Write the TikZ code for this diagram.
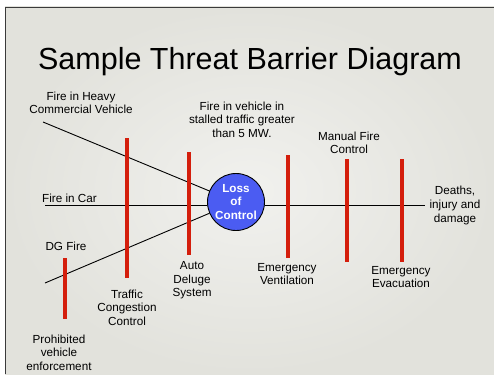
\documentclass[tikz,border=0pt]{standalone}
\usepackage{fontspec}
\setmainfont{Liberation Sans}
\usetikzlibrary{shapes.geometric}
\definecolor{slidebg}{HTML}{E2E2DC}
\definecolor{slidein}{HTML}{F1F1EE}
\definecolor{framec}{HTML}{3A3A3A}
\definecolor{barred}{HTML}{D41E0C}
\definecolor{lossblue}{HTML}{4B5CF2}
\tikzset{
  lbl/.style={align=center, inner sep=0pt, font=\fontsize{11.7}{13.6}\selectfont},
  bar/.style={draw=barred, line width=3.6pt},
  threat/.style={draw=black, line width=0.9pt},
  hub/.style={circle, draw=black, line width=0.9pt, fill=lossblue, minimum size=57pt, inner sep=0pt,
    text=white, align=center, font=\bfseries\fontsize{11.7}{13.5}\selectfont}
}
\begin{document}
\begin{tikzpicture}[x=1pt,y=-1pt]
\useasboundingbox (0,0) rectangle (494,374);
\fill[white] (0,0) rectangle (494,374);
\shade[inner color=slidein, outer color=slidebg] (5,7) rectangle (494,374);
\draw[framec, line width=1.5pt] (5.5,374) -- (5.5,7.5) -- (494,7.5);

\node[font=\fontsize{30.5}{32}\selectfont, inner sep=0pt] (title) at (250,62) {Sample Threat Barrier Diagram};

% hub
\node[hub] (loc) at (236,202) {Loss\\of\\Control};

% threat lines
\coordinate (hcv) at (43,122);
\coordinate (car) at (45,205);
\coordinate (dg) at (45,283);
\coordinate (out) at (425,205);
\draw[threat] (hcv) -- (loc);
\draw[threat] (dg) -- (loc);
\draw[threat] (car) -- (car -| loc.west);
\draw[threat] (out -| loc.east) -- (out);

% barriers
\coordinate (b1t) at (65,258); \coordinate (b1b) at (65,319);
\coordinate (b2t) at (127,138); \coordinate (b2b) at (127,278);
\coordinate (b3t) at (189,152); \coordinate (b3b) at (189,255);
\coordinate (b4t) at (288,155); \coordinate (b4b) at (288,258);
\coordinate (b5t) at (347,159); \coordinate (b5b) at (347,262);
\coordinate (b6t) at (402,159); \coordinate (b6b) at (402,262);
\foreach \i in {1,...,6} {\draw[bar] (b\i t) -- (b\i b);}

% labels
\node[lbl] (lhcv) at (81,103) {Fire in Heavy\\Commercial Vehicle};
\node[lbl, anchor=west] (lcar) at (42,198) {Fire in Car};
\node[lbl] (ldg) at (66,246) {DG Fire};
\node[lbl] (lstall) at (242,119.5) {Fire in vehicle in\\stalled traffic greater\\than 5 MW.};
\node[lbl] (lman) at (349,143) {Manual Fire\\Control};
\node[lbl] (ldeath) at (455,205.5) {Deaths,\\injury and\\damage};
\node[lbl] (lprob) at (59,352.5) {Prohibited\\vehicle\\enforcement};
\node[lbl] (ltraf) at (127,307.5) {Traffic\\Congestion\\Control};
\node[lbl] (lauto) at (192,280.5) {Auto\\Deluge\\System};
\node[lbl] (lvent) at (287,274) {Emergency\\Ventilation};
\node[lbl] (levac) at (401,277) {Emergency\\Evacuation};
\end{tikzpicture}
\end{document}
